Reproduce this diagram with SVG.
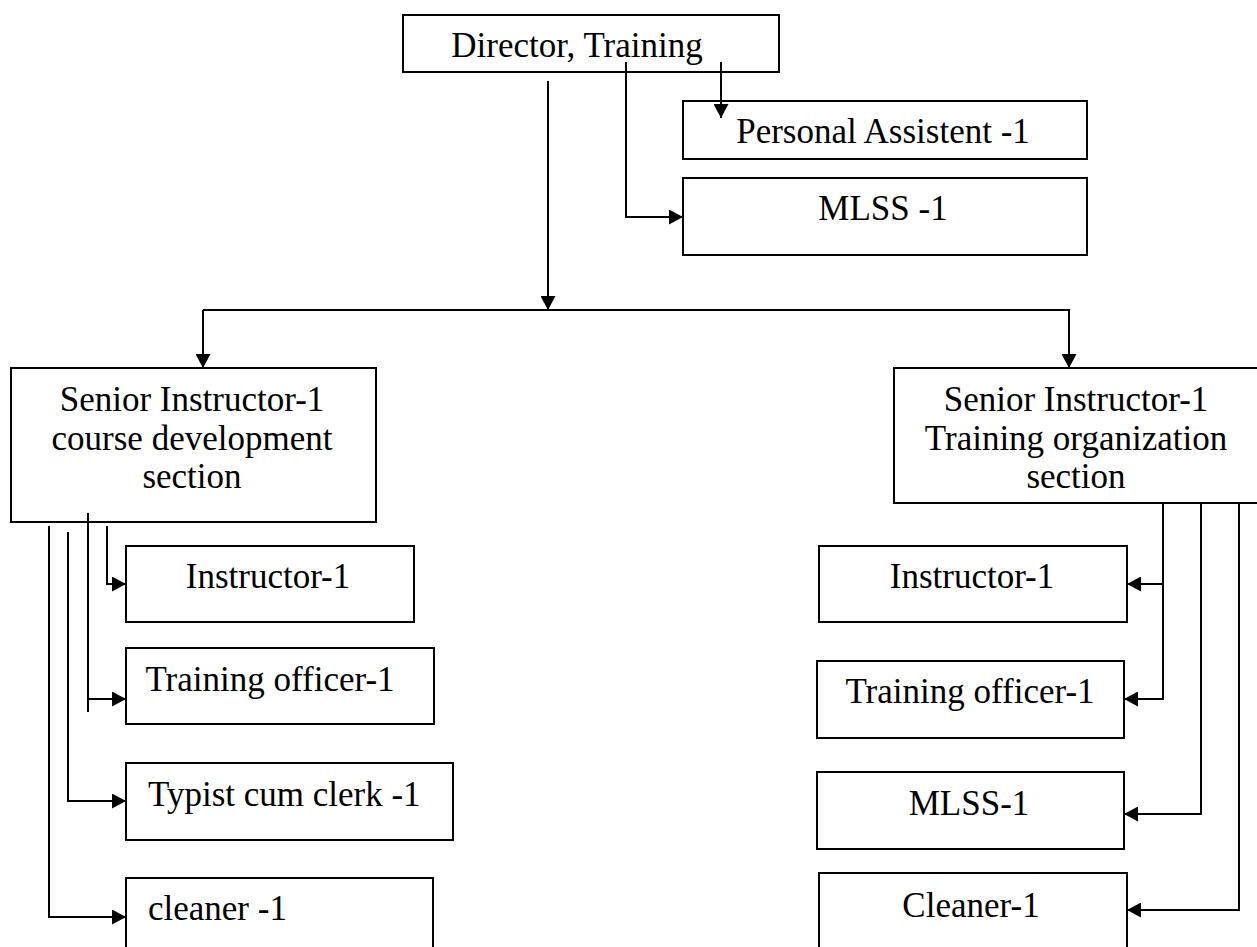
<svg xmlns="http://www.w3.org/2000/svg" width="1257" height="947" viewBox="0 0 1257 947">
<style>
.box{fill:#fff;stroke:#000;stroke-width:2}
.t{font-family:"Liberation Serif","Times New Roman",serif;font-size:35px;fill:#000}
.m{text-anchor:middle}
.c{fill:none;stroke:#000;stroke-width:2}
</style>
<defs>
<marker id="ah" markerUnits="userSpaceOnUse" markerWidth="15" markerHeight="15" refX="14" refY="7.5" orient="auto">
<path d="M0,0 L14,7.5 L0,15 z" fill="#000"/>
</marker>
</defs>
<rect width="1257" height="947" fill="#fff"/>
<g id="director"><rect class="box" x="403" y="15" width="376" height="57"/><text class="t m" x="577" y="57">Director, Training</text></g>
<g id="pa"><rect class="box" x="683" y="101" width="404" height="58"/><text class="t m" x="883" y="143">Personal Assistent -1</text></g>
<g id="mlss-top"><rect class="box" x="683" y="178" width="404" height="77"/><text class="t m" x="883" y="220">MLSS -1</text></g>
<g id="senior-left"><rect class="box" x="11" y="368" width="365" height="154"/>
<text class="t m" x="192" y="411">Senior Instructor-1</text>
<text class="t m" x="192" y="450">course development</text>
<text class="t m" x="192" y="488">section</text></g>
<g id="senior-right"><rect class="box" x="894" y="368" width="380" height="135"/>
<text class="t m" x="1076" y="411">Senior Instructor-1</text>
<text class="t m" x="1076" y="450">Training organization</text>
<text class="t m" x="1076" y="488">section</text></g>
<g id="instructor-left"><rect class="box" x="126" y="546" width="288" height="76"/><text class="t m" x="268" y="588">Instructor-1</text></g>
<g id="officer-left"><rect class="box" x="126" y="648" width="308" height="76"/><text class="t m" x="270" y="691">Training officer-1</text></g>
<g id="typist-left"><rect class="box" x="126" y="763" width="327" height="77"/><text class="t" x="148" y="806">Typist cum clerk -1</text></g>
<g id="cleaner-left"><rect class="box" x="126" y="878" width="307" height="80"/><text class="t" x="148" y="920">cleaner -1</text></g>
<g id="instructor-right"><rect class="box" x="819" y="546" width="308" height="76"/><text class="t m" x="972" y="588">Instructor-1</text></g>
<g id="officer-right"><rect class="box" x="817" y="661" width="307" height="77"/><text class="t m" x="970" y="703">Training officer-1</text></g>
<g id="mlss-right"><rect class="box" x="817" y="772" width="307" height="77"/><text class="t m" x="969" y="815">MLSS-1</text></g>
<g id="cleaner-right"><rect class="box" x="819" y="873" width="308" height="85"/><text class="t m" x="971" y="917">Cleaner-1</text></g>
<g id="connectors">
<path class="c" d="M548,81 V310" marker-end="url(#ah)"/>
<path class="c" d="M721,62 V118" marker-end="url(#ah)"/>
<path class="c" d="M626,62 V217 H683" marker-end="url(#ah)"/>
<path class="c" d="M203,310 H1070"/>
<path class="c" d="M203,310 V368" marker-end="url(#ah)"/>
<path class="c" d="M1069,310 V368" marker-end="url(#ah)"/>
<path class="c" d="M107,526 V584 H126" marker-end="url(#ah)"/>
<path class="c" d="M88,699 H126" marker-end="url(#ah)"/>
<path class="c" d="M88,513 V712"/>
<path class="c" d="M68,532 V801 H126" marker-end="url(#ah)"/>
<path class="c" d="M49,526 V917 H126" marker-end="url(#ah)"/>
<path class="c" d="M1163,503 V699 H1124" marker-end="url(#ah)"/>
<path class="c" d="M1163,584 H1127" marker-end="url(#ah)"/>
<path class="c" d="M1201,503 V814 H1124" marker-end="url(#ah)"/>
<path class="c" d="M1239,503 V910 H1127" marker-end="url(#ah)"/>
</g>
</svg>
